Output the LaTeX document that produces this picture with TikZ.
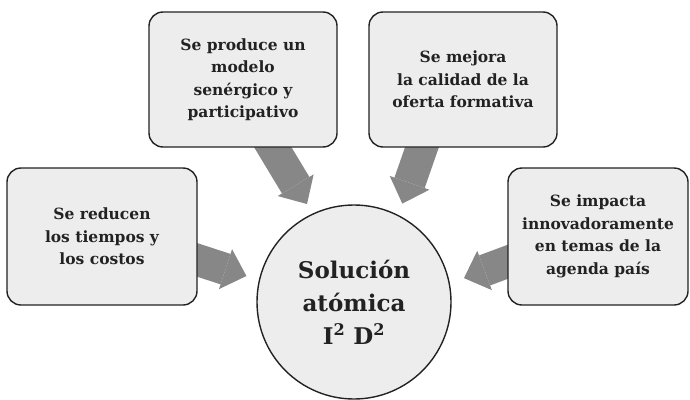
\documentclass[tikz,border=0pt]{standalone}
\usepackage{fontspec}
\setmainfont{DejaVu Serif}
\usepackage{xcolor}
\usetikzlibrary{arrows.meta,backgrounds}
\definecolor{grisflecha}{HTML}{878787}
\definecolor{grisfondo}{HTML}{EDEDED}
\definecolor{grisborde}{HTML}{222222}

\begin{document}
\begin{tikzpicture}[
  x=1pt, y=-1pt,
  caja/.style={draw=grisborde, line width=1.4pt, fill=grisfondo, rounded corners=14pt,
    minimum width=188pt, minimum height=135pt, align=center, text=grisborde,
    font=\bfseries\fontsize{15.5}{22.5}\selectfont},
  centro/.style={circle, draw=grisborde, line width=1.4pt, fill=grisfondo,
    minimum size=194pt, align=center, text=grisborde,
    font=\bfseries\fontsize{23}{33}\selectfont},
  flecha/.style={draw=grisflecha, line width=32pt,
    -{Triangle[width=42pt, length=22pt, line width=0pt]}}
]
\useasboundingbox (0,0) rectangle (690,399);

% --- Cajas ---
\node[caja, minimum width=190pt, minimum height=137pt] (reducen) at (102,236.5)
  {Se reducen\\los tiempos y\\los costos};
\node[caja] (produce) at (243,79.5)
  {Se produce un\\modelo\\senérgico y\\participativo};
\node[caja] (mejora) at (463,79.5)
  {Se mejora\\la calidad de la\\oferta formativa};
\node[caja, minimum width=180pt, minimum height=137pt] (impacta) at (598,236.5)
  {Se impacta\\innovadoramente\\en temas de la\\agenda país};

% --- Centro ---
\node[centro] (sol) at (354,302) {Solución\\atómica\\I\textsuperscript{2} D\textsuperscript{2}};

% Flechas hacia el centro
\begin{scope}[on background layer]
  \draw[flecha, shorten >=13pt] ([xshift=-20pt,yshift=-17pt]reducen.east) -- (sol.167.6);
  \draw[flecha, shorten >=11pt] ([xshift=21pt,yshift=15pt]produce.south) -- (sol.115.3);
  \draw[flecha, shorten >=12pt] ([xshift=-36pt,yshift=15pt]mejora.south) -- (sol.63);
  \draw[flecha, shorten >=15pt] ([xshift=20pt,yshift=-18pt]impacta.west) -- (sol.11.9);
\end{scope}
\end{tikzpicture}
\end{document}
